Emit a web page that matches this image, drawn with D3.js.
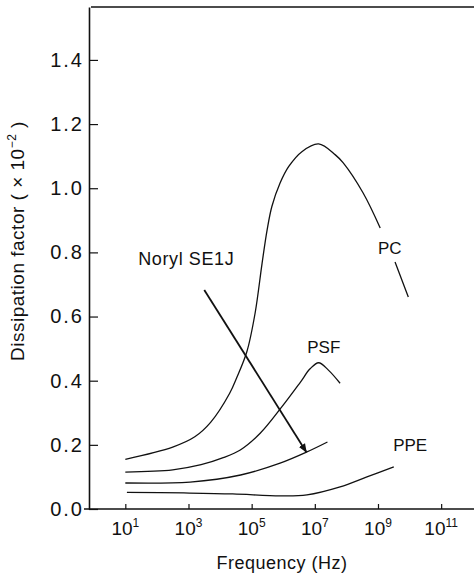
<!DOCTYPE html>
<html lang="en">
<head>
<meta charset="UTF-8">
<title>Dissipation factor</title>
<script src="https://d3js.org/d3.v7.min.js"></script>
<style>
  body { margin: 0; background: #fff; }
  text { font-family: "Liberation Sans", Arial, sans-serif; fill: #111; }
</style>
</head>
<body>
<div class="canvas"></div>
<script>
  // values: [log10 frequency, dissipation factor x1e-2]
  const pc = [[1, 0.155], [2.5, 0.193], [3.2, 0.225], [3.7, 0.27], [4.3, 0.36], [4.53, 0.41],
    [4.85, 0.491], [5.11, 0.611], [5.33, 0.766], [5.49, 0.87], [5.64, 0.943], [5.9, 1.016],
    [6.17, 1.067], [6.59, 1.114], [7.12, 1.138], [7.65, 1.104], [7.9, 1.079], [8.53, 0.985],
    [9.07, 0.876], [9.3, null], [9.54, 0.77], [9.96, 0.661]]
  const psf = [[1, 0.115], [2.5, 0.122], [3.4, 0.138], [4.1, 0.16], [4.64, 0.184], [5.27, 0.236],
    [5.96, 0.319], [6.54, 0.395], [6.85, 0.437], [7.12, 0.456], [7.43, 0.433], [7.8, 0.392]]
  const noryl = [[1, 0.081], [3.05, 0.084], [4.65, 0.106], [5.9, 0.143], [6.75, 0.178], [7.4, 0.209]]
  const ppe = [[1.05, 0.052], [2.85, 0.05], [4.4, 0.047], [5.9, 0.041], [6.75, 0.044], [7.8, 0.069],
    [8.65, 0.1], [9.5, 0.131]]

  const xTickExp = [1, 3, 5, 7, 9, 11]
  const yTicks = [0, 0.2, 0.4, 0.6, 0.8, 1.0, 1.2, 1.4]

  const labels = [
    { text: 'PC', lf: 9.0, v: 0.795, size: 17, ls: 0 },
    { text: 'PSF', lf: 6.76, v: 0.486, size: 17, ls: 0 },
    { text: 'PPE', lf: 9.48, v: 0.181, size: 17, ls: 0 },
    { text: 'Noryl SE1J', lf: 1.41, v: 0.761, size: 18, ls: 0.6 }
  ]
  const arrow = [[3.5, 0.683], [6.73, 0.178]]

  const width = 474
  const height = 578
  let [mt, mb, mr, ml] = [7, 69, 0, 89]

  const svg = d3.select('.canvas')
    .append('svg')
    .attr('width', width)
    .attr('height', height)

  const x = d3.scaleLog()
    .domain([Math.pow(10, -0.15), Math.pow(10, 12.04)])
    .range([ml, width - mr])
  const y = d3.scaleLinear()
    .domain([0, 1.565])
    .range([height - mb, mt])
  const lx = lf => x(Math.pow(10, lf))

  // frame: top line
  svg.append('line')
    .attr('x1', ml + 2).attr('x2', width)
    .attr('y1', y(1.565)).attr('y2', y(1.565))
    .attr('stroke', '#111').attr('stroke-width', 1.6)

  // x axis
  const xAxis = d3.axisBottom(x)
    .tickValues(xTickExp.map(e => Math.pow(10, e)))
    .tickSizeInner(-5)
    .tickSizeOuter(0)
    .tickFormat('')
  const xAxisG = svg.append('g')
    .attr('transform', `translate(0, ${y(0)})`)
    .call(xAxis)
  xAxisG.select('.domain').remove()
  xAxisG.selectAll('line').attr('stroke', '#111').attr('stroke-width', 1.2)
  svg.append('line')
    .attr('x1', ml - 5).attr('x2', width)
    .attr('y1', y(0)).attr('y2', y(0))
    .attr('stroke', '#111').attr('stroke-width', 1.6)

  const xt = svg.append('g').selectAll('text')
    .data(xTickExp)
    .join('text')
    .attr('x', d => lx(d))
    .attr('y', y(0) + 26)
    .attr('text-anchor', 'middle')
    .style('font-size', '19px')
  xt.append('tspan').text('10')
  xt.append('tspan')
    .attr('dy', -8)
    .style('font-size', '12px')
    .text(d => d)

  // y axis
  const yAxis = d3.axisLeft(y)
    .tickValues(yTicks)
    .tickSizeInner(-9)
    .tickSizeOuter(0)
    .tickPadding(5)
    .tickFormat(d3.format('.1f'))
  const yAxisG = svg.append('g')
    .attr('transform', `translate(${ml}, 0)`)
    .call(yAxis)
  yAxisG.select('.domain').attr('stroke', '#111').attr('stroke-width', 1.6)
  yAxisG.selectAll('line').attr('stroke', '#111').attr('stroke-width', 1.2)
  yAxisG.selectAll('text')
    .style('font-size', '20px')
    .style('letter-spacing', '2px')
    .attr('fill', '#111')
    .style('font-family', '"Liberation Sans", Arial, sans-serif')

  // axis titles
  svg.append('text')
    .attr('x', 282)
    .attr('y', 569)
    .attr('text-anchor', 'middle')
    .style('font-size', '18px')
    .style('letter-spacing', '0.5px')
    .text('Frequency (Hz)')

  const yt = svg.append('text')
    .attr('transform', 'translate(24, 241) rotate(-90)')
    .attr('text-anchor', 'middle')
    .style('font-size', '19px')
    .style('letter-spacing', '0.5px')
  yt.append('tspan').text('Dissipation factor ( × 10')
  yt.append('tspan').attr('dy', -8).style('font-size', '12px').text('−2')
  yt.append('tspan').attr('dy', 8).text(' )')

  // curves
  const line = d3.line()
    .defined(d => d[1] != null)
    .x(d => lx(d[0]))
    .y(d => y(d[1]))
    .curve(d3.curveCatmullRom.alpha(0.5))

  svg.append('g').selectAll('path')
    .data([pc, psf, noryl, ppe])
    .join('path')
    .attr('fill', 'none')
    .attr('stroke', '#111')
    .attr('stroke-width', 1.3)
    .attr('d', d => line(d))

  // labels
  svg.append('g').selectAll('text')
    .data(labels)
    .join('text')
    .attr('x', d => lx(d.lf))
    .attr('y', d => y(d.v))
    .style('font-size', d => d.size + 'px')
    .style('letter-spacing', d => d.ls + 'px')
    .text(d => d.text)

  // arrow
  svg.append('defs').append('marker')
    .attr('id', 'head')
    .attr('viewBox', '0 0 10 10')
    .attr('refX', 9).attr('refY', 5)
    .attr('markerWidth', 5).attr('markerHeight', 5)
    .attr('orient', 'auto')
    .append('path')
    .attr('d', 'M0,1 L10,5 L0,9 Z')
    .attr('fill', '#111')

  svg.append('line')
    .attr('x1', lx(arrow[0][0])).attr('y1', y(arrow[0][1]))
    .attr('x2', lx(arrow[1][0])).attr('y2', y(arrow[1][1]))
    .attr('stroke', '#111')
    .attr('stroke-width', 1.8)
    .attr('marker-end', 'url(#head)')
</script>
</body>
</html>
